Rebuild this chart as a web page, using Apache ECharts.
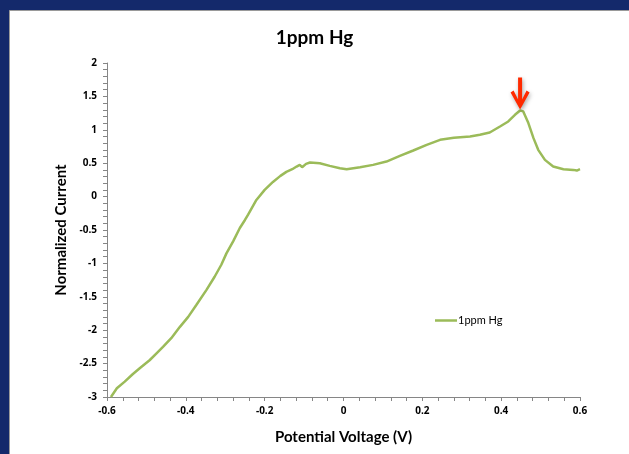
<!DOCTYPE html>
<html>
<head>
<meta charset="utf-8">
<style>
  html, body { margin: 0; padding: 0; background: #14296b; }
  #chart { width: 629px; height: 454px; }
</style>
<script src="https://cdn.jsdelivr.net/npm/echarts@6/dist/echarts.min.js"></script>
</head>
<body>
<div id="chart"></div>
<script>
// Potential sweep (V)
const potential = [
  -0.590, -0.575, -0.555, -0.535, -0.517, -0.492, -0.475, -0.458, -0.437, -0.415,
  -0.394, -0.373, -0.348, -0.327, -0.310, -0.297, -0.280, -0.263, -0.250, -0.242,
  -0.221, -0.200, -0.179, -0.160, -0.145, -0.130, -0.119, -0.111, -0.105, -0.095,
  -0.085, -0.060, -0.035, -0.009, 0.008, 0.042, 0.075, 0.109, 0.143, 0.177,
  0.211, 0.245, 0.280, 0.321, 0.346, 0.371, 0.397, 0.418, 0.435, 0.448,
  0.456, 0.469, 0.482, 0.494, 0.511, 0.532, 0.558, 0.583, 0.592, 0.600
];
// Normalized current at each potential
const current = [
  -3.00, -2.87, -2.77, -2.66, -2.57, -2.45, -2.35, -2.25, -2.12, -1.95,
  -1.80, -1.62, -1.40, -1.20, -1.02, -0.85, -0.67, -0.47, -0.35, -0.27,
  -0.05, 0.10, 0.22, 0.31, 0.37, 0.41, 0.45, 0.475, 0.44, 0.49,
  0.51, 0.50, 0.46, 0.425, 0.41, 0.44, 0.475, 0.525, 0.61, 0.69,
  0.775, 0.85, 0.88, 0.90, 0.925, 0.96, 1.05, 1.125, 1.225, 1.29,
  1.275, 1.10, 0.875, 0.70, 0.55, 0.45, 0.41, 0.40, 0.39, 0.41
];
// Hg stripping peak marked with an arrow
const peak = [0.448, 1.29];

const seriesName = '1ppm Hg';
const titleText = '1ppm Hg';
const xName = 'Potential Voltage (V)';
const yName = 'Normalized Current';

const points = potential.map((v, i) => [v, current[i]]);
const font = 'Lato, "Open Sans", sans-serif';
const tickFont = '"Open Sans", Lato, sans-serif';

const chart = echarts.init(document.getElementById('chart'));
chart.setOption({
  backgroundColor: '#14296b',
  animation: false,
  graphic: [{
    type: 'rect',
    shape: { x: 9.5, y: 10.5, width: 640, height: 460 },
    style: { fill: '#ffffff', stroke: '#9a9a9a', lineWidth: 1 },
    z: -10
  }],
  title: {
    text: titleText,
    left: 'center',
    top: 23,
    textStyle: { fontFamily: font, fontWeight: 'bold', fontSize: 19, color: '#000' }
  },
  legend: {
    data: [seriesName],
    left: 430,
    top: 310,
    icon: 'rect',
    itemWidth: 22,
    itemHeight: 2.5,
    itemGap: 2,
    textStyle: { fontFamily: font, fontSize: 11, color: '#000', padding: [0, 0, 0, -4] }
  },
  grid: { left: 107, right: 49, top: 63, bottom: 57 },
  xAxis: {
    type: 'value',
    min: -0.6, max: 0.6, interval: 0.2,
    name: xName,
    nameLocation: 'middle',
    nameGap: 33,
    nameTextStyle: { fontFamily: font, fontWeight: 'bold', fontSize: 15, color: '#000' },
    axisLine: { onZero: false, lineStyle: { color: '#868686', width: 1 } },
    axisTick: { show: true, length: 4, lineStyle: { color: '#868686' } },
    minorTick: { show: true, splitNumber: 5, length: 4, lineStyle: { color: '#868686' } },
    axisLabel: { margin: 9, fontFamily: tickFont, fontWeight: 'bold', fontSize: 10, color: '#000' },
    splitLine: { show: false }
  },
  yAxis: {
    type: 'value',
    min: -3, max: 2, interval: 0.5,
    name: yName,
    nameLocation: 'middle',
    nameGap: 37,
    nameRotate: 90,
    nameTextStyle: { fontFamily: font, fontWeight: 'bold', fontSize: 15, color: '#000' },
    axisLine: { show: true, onZero: false, lineStyle: { color: '#868686', width: 1 } },
    axisTick: { show: true, length: 4, lineStyle: { color: '#868686' } },
    minorTick: { show: true, splitNumber: 5, length: 4, lineStyle: { color: '#868686' } },
    axisLabel: { margin: 10, fontFamily: tickFont, fontWeight: 'bold', fontSize: 10, color: '#000' },
    splitLine: { show: false }
  },
  series: [{
    name: seriesName,
    type: 'line',
    data: points,
    showSymbol: false,
    symbol: 'none',
    lineStyle: { color: '#9bbb59', width: 2.5 },
    itemStyle: { color: '#9bbb59' },
    markPoint: {
      silent: true,
      symbol: 'path://M7.5,0 L11.5,0 L11.5,22 L16,13 L19,15 L9.5,32 L0,15 L3,13 L7.5,22 Z',
      symbolSize: [19, 32],
      symbolOffset: [0, -17],
      label: { show: false },
      itemStyle: {
        color: '#ff2a00',
        shadowColor: 'rgba(0,0,0,0.35)',
        shadowBlur: 4,
        shadowOffsetX: 1,
        shadowOffsetY: 2
      },
      data: [{ coord: peak }]
    }
  }]
});
</script>
</body>
</html>
